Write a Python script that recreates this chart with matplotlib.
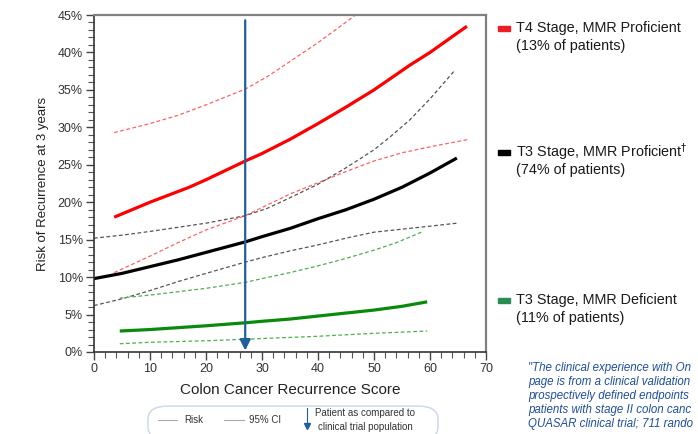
import numpy as np
import matplotlib
matplotlib.use('Agg')
import matplotlib.pyplot as plt
from matplotlib.patches import FancyBboxPatch, Rectangle
from matplotlib.lines import Line2D
from matplotlib.ticker import MultipleLocator, FuncFormatter

plt.rcParams['font.family'] = ['Liberation Sans', 'DejaVu Sans']

# T4 Stage, MMR Proficient
t4_x = [3.6, 10, 17, 20, 27, 30, 35, 40, 45, 50, 56.4, 60, 66.6]
t4_risk = [18.0, 20.0, 22.0, 23.0, 25.5, 26.5, 28.4, 30.5, 32.7, 35.0, 38.3, 40.0, 43.5]
t4_up_x = [3.6, 10, 15, 20, 27, 31, 35, 40, 46, 48]
t4_up = [29.3, 30.5, 31.6, 33.0, 35.1, 36.8, 38.8, 41.3, 44.6, 45.8]
t4_lo_x = [3.6, 10, 15, 20, 27, 35, 40, 45, 50, 55, 60, 67]
t4_lo = [10.6, 12.8, 14.6, 16.3, 18.2, 21.1, 22.6, 24.1, 25.5, 26.6, 27.4, 28.4]

# T3 Stage, MMR Proficient
t3_x = [0, 5, 10, 15, 20, 27, 30, 35, 40, 45, 50, 55, 60, 64.8]
t3_risk = [9.8, 10.5, 11.4, 12.3, 13.3, 14.7, 15.4, 16.5, 17.8, 19.0, 20.4, 22.0, 23.9, 25.9]
t3_up_x = [0, 5, 10, 20, 27, 31, 35, 40, 45, 50, 53, 56.4, 60, 64.3]
t3_up = [15.2, 15.6, 16.1, 17.2, 18.2, 19.2, 20.6, 22.4, 24.6, 27.0, 28.8, 31.0, 33.8, 37.5]
t3_lo = [6.2, 7.1, 8.2, 9.4, 10.5, 12.0, 12.6, 13.5, 14.3, 15.2, 16.0, 16.4, 16.8, 17.2]

# T3 Stage, MMR Deficient
d3_x = [4.6, 10, 20, 27, 30, 35, 40, 45, 50, 55, 59.5]
d3_risk = [2.8, 3.0, 3.5, 3.9, 4.1, 4.4, 4.8, 5.2, 5.6, 6.1, 6.7]
d3_up_x = [4.6, 10, 20, 27, 30, 35, 40, 45, 50, 54, 58.8]
d3_up = [7.2, 7.6, 8.5, 9.3, 9.8, 10.6, 11.5, 12.5, 13.6, 14.6, 16.1]
d3_lo = [1.1, 1.3, 1.5, 1.7, 1.8, 1.95, 2.1, 2.3, 2.5, 2.65, 2.8]

patient_score = 27
patient_top = 44.3

fig = plt.figure(figsize=(6.98, 4.34), dpi=100)
ax = fig.add_axes([94/698, 1-352/434, (486-94)/698, (352-15)/434])

dash = (0, (3, 2))
# confidence intervals
ax.plot(t4_up_x, t4_up, color='#ff6060', lw=0.9, ls=dash)
ax.plot(t4_lo_x, t4_lo, color='#ff6060', lw=0.9, ls=dash)
ax.plot(t3_up_x, t3_up, color='#555555', lw=0.9, ls=dash)
ax.plot(t3_x, t3_lo, color='#555555', lw=0.9, ls=dash)
ax.plot(d3_up_x, d3_up, color='#4cb04c', lw=0.9, ls=dash)
ax.plot(d3_x, d3_lo, color='#4cb04c', lw=0.9, ls=dash)
# risk curves
ax.plot(t4_x, t4_risk, color='#ff0000', lw=2.3, solid_capstyle='butt', solid_joinstyle='round')
ax.plot(t3_x, t3_risk, color='#000000', lw=2.3, solid_capstyle='butt', solid_joinstyle='round')
ax.plot(d3_x, d3_risk, color='#0a8a0a', lw=2.3, solid_capstyle='butt', solid_joinstyle='round')

ax.annotate('', xy=(patient_score, 0.2), xytext=(patient_score, patient_top),
            arrowprops=dict(arrowstyle='-|>', color='#1f5f9e', lw=1.6,
                            mutation_scale=16, shrinkA=0, shrinkB=0))

ax.set_xlim(0, 70)
ax.set_ylim(0, 45)
ax.xaxis.set_major_locator(MultipleLocator(10))
ax.xaxis.set_minor_locator(MultipleLocator(2))
ax.yaxis.set_major_locator(MultipleLocator(5))
ax.yaxis.set_minor_locator(MultipleLocator(1))
ax.yaxis.set_major_formatter(FuncFormatter(lambda v, p: '%d%%' % v))
ax.tick_params(which='major', length=6, width=1, color='#444444',
               labelsize=9, labelcolor='#333333', pad=2)
ax.tick_params(which='minor', length=4, width=0.8, color='#555555')
for side in ['left', 'bottom']:
    ax.spines[side].set_color('#333333')
    ax.spines[side].set_linewidth(1.2)
for side in ['top', 'right']:
    ax.spines[side].set_color('#808080')
    ax.spines[side].set_linewidth(1.6)

ax.set_xlabel('Colon Cancer Recurrence Score', fontsize=11, color='#222222', labelpad=6)
ax.set_ylabel('Risk of Recurrence at 3 years', fontsize=9.5, color='#222222', labelpad=6)

# right-hand legend
groups = [
    ('#ee1c25', 'T4 Stage, MMR Proficient', '(13% of patients)', 28),
    ('#000000', 'T3 Stage, MMR Proficient$^{\\dagger}$', '(74% of patients)', 152),
    ('#2a8c52', 'T3 Stage, MMR Deficient', '(11% of patients)', 300),
]
for col, l1, l2, ypx in groups:
    fig.patches.append(Rectangle((498/698, 1-(ypx+3)/434), 12/698, 5/434,
                                 transform=fig.transFigure, color=col))
    fig.text(516/698, 1-ypx/434, l1, fontsize=10.4, color='#1a1a1a', va='center')
    fig.text(516/698, 1-(ypx+18)/434, l2, fontsize=10.4, color='#1a1a1a', va='center')

# footnote (cut at the right edge as in the source)
note = ['"The clinical experience with On',
        'page is from a clinical validation',
        'prospectively defined endpoints',
        'patients with stage II colon canc',
        'QUASAR clinical trial; 711 rando']
for i, line in enumerate(note):
    fig.text(528/698, 1-(368+14*i)/434, line, fontsize=8.3, style='italic',
             color='#1f4e9c', va='center')

# bottom legend box
fig.patches.append(FancyBboxPatch((148/698, 1-440/434), 290/698, 34/434,
                                  boxstyle='round,pad=0,rounding_size=0.03',
                                  transform=fig.transFigure, fc='white',
                                  ec='#c8d8ea', lw=1))
fig.lines.append(Line2D([158/698, 177/698], [1-420/434]*2, transform=fig.transFigure,
                        color='#aaaaaa', lw=0.8))
fig.text(184/698, 1-420/434, 'Risk', fontsize=7, color='#333333', va='center')
fig.lines.append(Line2D([224/698, 244/698], [1-420/434]*2, transform=fig.transFigure,
                        color='#aaaaaa', lw=0.8))
fig.text(249/698, 1-420/434, '95% CI', fontsize=7, color='#333333', va='center')
fig.lines.append(Line2D([307/698, 307/698], [1-408/434, 1-424/434], transform=fig.transFigure,
                        color='#1f5f9e', lw=0.8))
fig.lines.append(Line2D([307/698], [1-426/434], transform=fig.transFigure, marker='v',
                        color='#1f5f9e', ms=4, ls='none'))
fig.text(365/698, 1-413/434, 'Patient as compared to', fontsize=7, color='#333333',
         va='center', ha='center')
fig.text(365/698, 1-427/434, 'clinical trial population', fontsize=7, color='#333333',
         va='center', ha='center')

fig.savefig('out.png', dpi=100)
